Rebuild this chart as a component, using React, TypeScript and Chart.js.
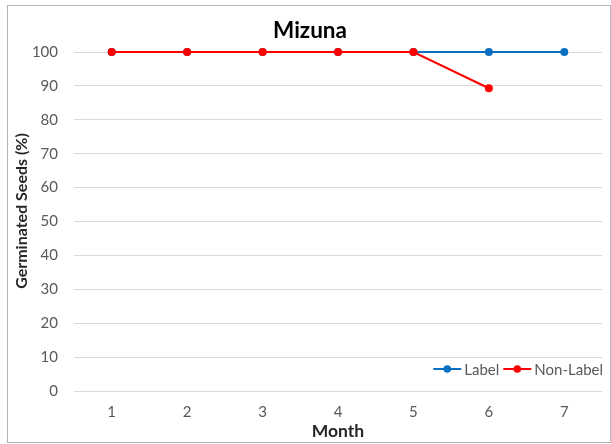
import React, { useEffect, useRef } from "react";
import { Chart, registerables } from "chart.js";

Chart.register(...registerables);

const months = ["1", "2", "3", "4", "5", "6", "7"];
const labelSeries = [100, 100, 100, 100, 100, 100, 100];
const nonLabelSeries = [100, 100, 100, 100, 100, 89.3, null];
const seriesNames = ["Label", "Non-Label"];
const seriesColors = ["#0B70C2", "#FF0000"];
const chartTitle = "Mizuna";
const xTitle = "Month";
const yTitle = "Germinated Seeds (%)";

const FONT = "Lato, 'Open Sans', sans-serif";

const insideLegend = {
  id: "insideLegend",
  afterDraw(chart: any) {
    const ctx = chart.ctx;
    const area = chart.chartArea;
    const ds = chart.data.datasets;
    ctx.save();
    ctx.font = `15px ${FONT}`;
    const lineW = 28;
    const gapText = 3;
    const gapItem = 4;
    const widths = ds.map((d: any) => lineW + gapText + ctx.measureText(d.label).width);
    const total = widths.reduce((a: number, b: number) => a + b, 0) + gapItem * (ds.length - 1);
    let x = area.right + 1 - total;
    const y = 369;
    ds.forEach((d: any, i: number) => {
      ctx.strokeStyle = d.borderColor;
      ctx.lineWidth = 2;
      ctx.beginPath();
      ctx.moveTo(x, y);
      ctx.lineTo(x + lineW, y);
      ctx.stroke();
      ctx.fillStyle = d.borderColor;
      ctx.beginPath();
      ctx.arc(x + lineW / 2, y, 3.8, 0, Math.PI * 2);
      ctx.fill();
      ctx.fillStyle = "#595959";
      ctx.textBaseline = "middle";
      ctx.textAlign = "left";
      ctx.fillText(d.label, x + lineW + gapText, y + 1);
      x += widths[i] + gapItem;
    });
    ctx.restore();
  },
};

const yAxisTitle = {
  id: "yAxisTitle",
  afterDraw(chart: any) {
    const ctx = chart.ctx;
    ctx.save();
    ctx.translate(22, 211);
    ctx.rotate(-Math.PI / 2);
    ctx.font = `bold 16px ${FONT}`;
    ctx.fillStyle = "#262626";
    ctx.textAlign = "center";
    ctx.textBaseline = "middle";
    ctx.fillText(yTitle, 0, 0);
    ctx.restore();
  },
};

export default function App() {
  const ref = useRef<HTMLCanvasElement | null>(null);
  useEffect(() => {
    if (!ref.current) return;
    const chart = new Chart(ref.current, {
      type: "line",
      data: {
        labels: months,
        datasets: [
          {
            label: seriesNames[0],
            data: labelSeries,
            borderColor: seriesColors[0],
            backgroundColor: seriesColors[0],
            borderWidth: 2,
            pointRadius: 4,
            pointBorderWidth: 0,
            clip: false,
            order: 1,
          },
          {
            label: seriesNames[1],
            data: nonLabelSeries,
            borderColor: seriesColors[1],
            backgroundColor: seriesColors[1],
            borderWidth: 2,
            pointRadius: 4,
            pointBorderWidth: 0,
            clip: false,
            order: 0,
          },
        ],
      },
      options: {
        animation: false,
        responsive: false,
        maintainAspectRatio: false,
        layout: { padding: { left: 18, right: 9, top: 0, bottom: 0 } },
        plugins: {
          legend: { display: false },
          tooltip: { enabled: false },
          title: {
            display: true,
            text: chartTitle,
            color: "#000000",
            font: { family: FONT, size: 22.5, weight: "bold" },
            padding: { top: 17, bottom: 8 },
          },
        },
        scales: {
          x: {
            type: "category",
            offset: true,
            grid: { display: false, drawTicks: false },
            border: { display: false },
            ticks: {
              color: "#595959",
              font: { family: FONT, size: 15 },
              padding: 12,
              maxRotation: 0,
            },
            title: {
              display: true,
              text: xTitle,
              color: "#262626",
              font: { family: FONT, size: 17.5, weight: "bold" },
              padding: { top: 0, bottom: 2 },
            },
            afterFit(scale: any) {
              scale.height = 53;
            },
          },
          y: {
            min: 0,
            max: 100,
            grid: { color: "#d9d9d9", lineWidth: 1, drawTicks: false },
            border: { display: false },
            ticks: {
              stepSize: 10,
              color: "#595959",
              font: { family: FONT, size: 15 },
              padding: 16,
            },
            title: { display: false },
            afterFit(scale: any) {
              scale.width = 56;
            },
          },
        },
      },
      plugins: [insideLegend, yAxisTitle],
    } as any);
    return () => chart.destroy();
  }, []);

  return (
    <div style={{ position: "fixed", left: 0, top: 0, width: 611, height: 444, background: "#fff" }}>
      <div
        style={{
          position: "absolute",
          left: 7,
          top: 5,
          width: 604,
          height: 438,
          boxSizing: "border-box",
          border: "1px solid #b4b4b4",
        }}
      />
      <canvas ref={ref} width={611} height={444} style={{ position: "absolute", left: 0, top: 0 }} />
    </div>
  );
}
